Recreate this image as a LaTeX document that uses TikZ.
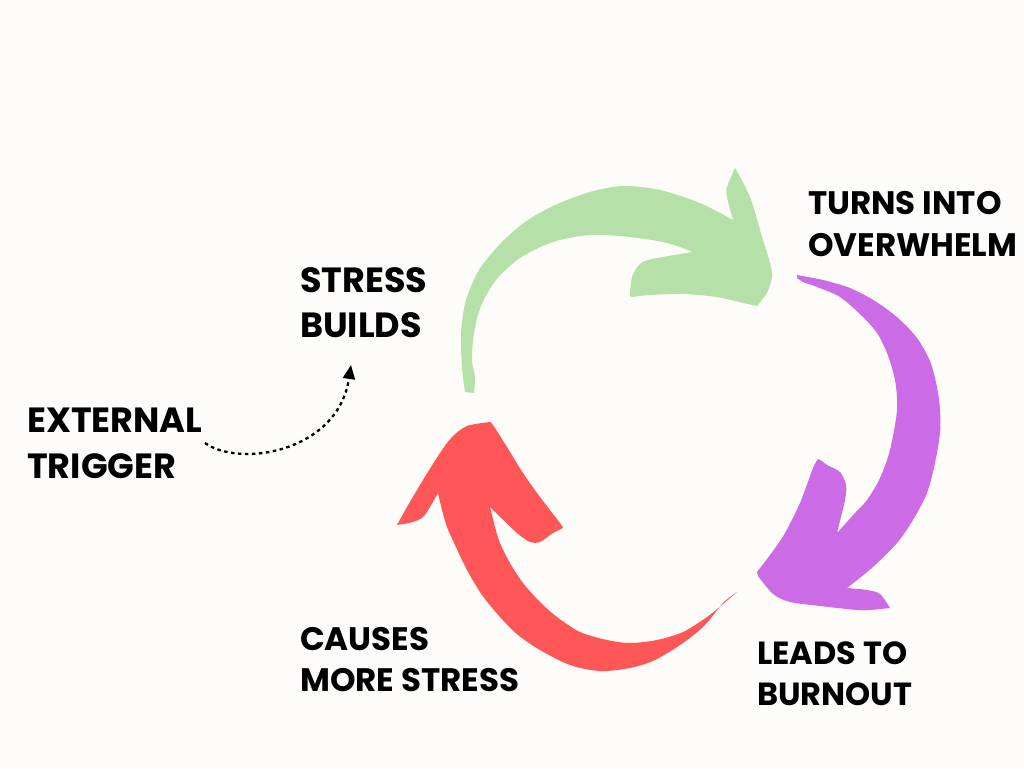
\documentclass[tikz,border=0pt]{standalone}
\usepackage{fontspec}
\setmainfont{Poppins}
\usetikzlibrary{arrows.meta}
\definecolor{bg}{HTML}{FEFCF8}
\definecolor{cgreen}{HTML}{B5E1A8}
\definecolor{cpurple}{HTML}{CB6CE6}
\definecolor{cred}{HTML}{FF5757}
\tikzset{
  lbl/.style={anchor=base west, inner sep=0pt, align=left, font=\bfseries},
  dotlink/.style={line width=2.3pt, dash pattern=on 3.5pt off 3.5pt, -{Triangle[length=14pt,width=12pt]}}
}
\begin{document}
\begin{tikzpicture}[x=1pt,y=-1pt]
\fill[bg] (0,0) rectangle (1024,768);
\useasboundingbox (0,0) rectangle (1024,768);
% green arrow
\fill[cgreen] (465,392) -- plot[smooth] coordinates {(465,392) (462,367) (461,333) (466,300) (479,270) (500,244) (525,222) (555,205) (590,192) (623,186) (660,190) (700,203) (733,220)}
  -- plot[smooth] coordinates {(733,220) (727,197) (727,187) (735,168)}
  -- plot[smooth] coordinates {(735,168) (750,197) (763,240) (770,263) (772,277) (767,293) (757,306)}
  -- plot[smooth] coordinates {(757,306) (743,303) (717,297) (683,294) (650,295) (632,297)}
  -- plot[smooth] coordinates {(630,296) (632,277) (640,264) (652,259) (693,252)}
  -- plot[smooth] coordinates {(693,252) (667,243) (630,237) (590,235) (553,242) (520,258) (496,280) (481,306) (474,333) (472,360) (475,377) (474,393)}
  -- cycle;
% purple arrow
\fill[cpurple] (797,275) -- plot[smooth] coordinates {(797,275) (823,280) (850,288) (875,301) (898,318) (917,338) (930,361) (937,387) (940,410) (940,433) (935,463) (927,493) (913,520) (897,543) (873,567) (847,588)}
  -- plot[smooth] coordinates {(847,588) (867,590) (880,594) (890,608)}
  -- plot[smooth] coordinates {(890,608) (870,610) (857,610) (820,606) (790,602) (773,594) (758,576)}
  -- plot[smooth] coordinates {(757,572) (773,551) (785,533) (800,503) (813,468) (818,459)}
  -- plot[smooth] coordinates {(818,459) (822,461) (827,465) (840,472) (846,485) (845,500) (837,533)}
  -- plot[smooth] coordinates {(837,533) (855,513) (867,500) (880,478) (890,450) (897,410) (895,380) (887,353) (877,333) (863,317) (840,297) (817,287) (803,282) (797,278)}
  -- cycle;
% red arrow
\fill[cred] (737,592) -- plot[smooth] coordinates {(737,592) (723,603) (705,625) (683,643) (655,660) (630,668) (600,671) (570,665) (540,650) (518,635) (500,617) (482,595) (467,570) (455,545) (447,527) (442,510) (438,493)}
  -- plot[smooth] coordinates {(438,493) (430,507) (423,517) (413,522) (397,525)}
  -- plot[smooth] coordinates {(397,525) (407,507) (423,480) (440,453) (452,437) (467,426) (490,422)}
  -- plot[smooth] coordinates {(490,422) (493,425) (507,447) (523,473) (540,497) (560,523) (563,528)}
  -- plot[smooth] coordinates {(563,528) (553,533) (540,542) (530,542) (517,533) (490,507)}
  -- plot[smooth] coordinates {(490,507) (495,527) (500,543) (510,563) (523,583) (540,602) (557,617) (580,632) (607,640) (630,643) (657,640) (683,632) (707,617) (723,604) (737,592)}
  -- cycle;
% labels (anchor = baseline of last line)
\node[lbl, font=\bfseries\fontsize{35}{45}\selectfont] (stress) at (300,337) {STRESS\\BUILDS};
\node[lbl, font=\bfseries\fontsize{35}{46}\selectfont] (trigger) at (27,478) {EXTERNAL\\TRIGGER};
\node[lbl, font=\bfseries\fontsize{32.5}{42}\selectfont] (overwhelm) at (808,256) {TURNS INTO\\OVERWHELM};
\node[lbl, font=\bfseries\fontsize{32}{41}\selectfont] (burnout) at (757,705) {LEADS TO\\BURNOUT};
\node[lbl, font=\bfseries\fontsize{32.5}{41}\selectfont] (more) at (300,691) {CAUSES\\MORE STRESS};
% dotted link
\coordinate (dstart) at (205,443);
\coordinate (dend) at (351,365);
\draw[dotlink] (dstart) .. controls (240,468) and (338,452) .. (dend);
\end{tikzpicture}
\end{document}
